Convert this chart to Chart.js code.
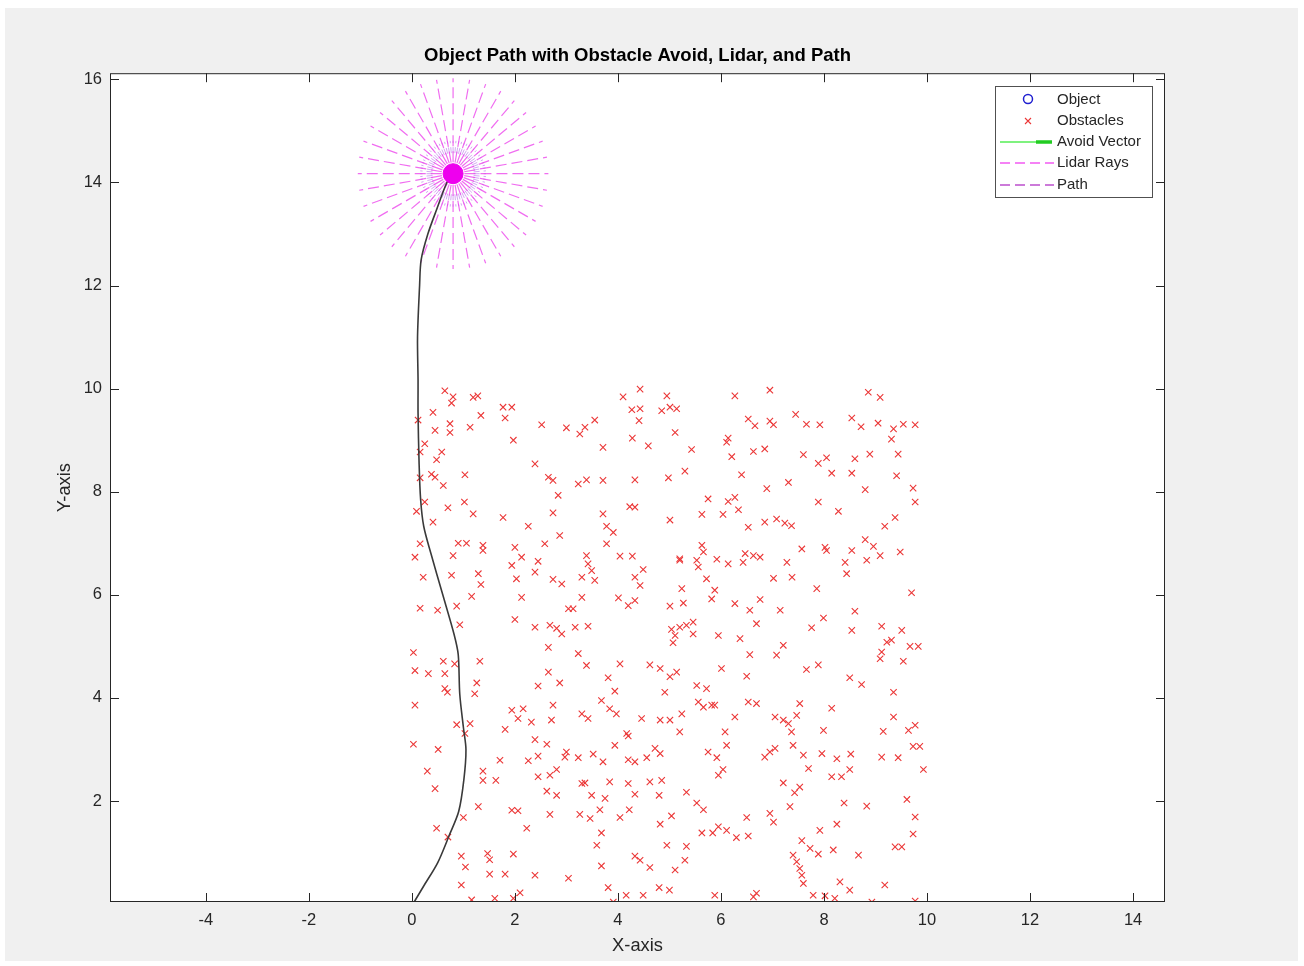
<!DOCTYPE html>
<html>
<head>
<meta charset="utf-8">
<title>Object Path with Obstacle Avoid, Lidar, and Path</title>
<script src="https://cdn.jsdelivr.net/npm/chart.js@4.4.1/dist/chart.umd.min.js"></script>
<style>
  html, body { margin: 0; padding: 0; background: #fff; }
  #wrap { width: 1304px; height: 966px; }
</style>
</head>
<body>
<div id="wrap"><canvas id="myChart" width="1304" height="966"></canvas></div>
<script>
// obstacles
const obstacleX = [
  0.64,0.80,0.77,1.19,1.28,1.77,1.94,1.81,0.41,1.34,0.12,0.74,0.74,0.45,1.13,2.52,3.00,3.26,1.97,0.25,0.16,0.58,0.48,2.39,0.38,0.45,1.03,0.16,2.65,2.74,3.23,0.61,2.84,0.25,1.02,0.70,0.09,1.19,2.74,1.77,0.41,2.26,2.87,0.16,0.90,1.06,1.38,1.38,2.00,2.58,0.06,0.80,2.13,
  4.43,4.10,4.95,6.27,4.27,4.43,4.41,4.85,5.01,5.14,3.55,3.36,6.53,6.66,5.11,4.28,6.14,6.11,3.71,4.59,5.43,6.63,6.21,5.30,6.40,3.39,3.71,4.33,4.98,5.75,6.14,6.27,6.34,4.23,4.33,3.71,5.63,6.04,5.01,3.78,3.91,6.53,3.78,5.63,5.66,3.39,4.04,4.28,5.20,6.47,6.63,
  6.95,8.86,9.09,6.95,7.02,7.45,7.66,7.92,8.54,8.72,9.05,9.35,9.31,9.54,9.77,6.85,7.60,7.89,8.05,8.89,8.60,9.44,8.15,8.54,7.31,9.41,6.89,8.80,9.73,7.89,9.77,8.28,6.85,7.08,7.24,7.37,9.38,9.18,7.57,8.02,8.05,8.80,8.96,8.54,9.09,9.48,6.76,
  1.94,2.45,2.39,0.22,0.77,1.29,1.34,2.03,2.74,2.91,3.30,1.16,2.13,3.30,0.16,0.50,0.87,3.04,3.13,2.00,0.93,2.39,2.68,2.81,2.91,3.17,2.65,0.03,3.23,0.61,0.83,1.32,0.06,0.32,0.64,2.65,1.26,0.64,0.69,2.45,2.87,1.22,0.06,2.74,1.94,2.16,2.06,3.30,2.32,2.71,0.87,1.13,1.81,
  3.42,3.49,3.55,5.20,5.53,5.56,5.92,6.14,6.43,4.49,4.33,4.43,5.72,5.24,5.88,5.82,4.01,4.20,4.33,5.01,5.27,6.27,6.56,6.69,3.42,5.04,5.11,5.20,5.33,5.46,5.46,5.07,5.95,6.37,6.56,3.39,4.04,4.62,4.82,5.01,5.14,6.01,6.50,3.81,5.53,5.72,3.94,4.91,3.68,3.84,3.97,5.56,5.66,5.82,5.88,6.53,6.69,3.42,4.46,4.82,5.01,5.24,6.27,5.20,6.08,4.17,
  7.28,8.41,8.83,7.02,7.38,8.44,7.86,9.70,6.76,7.15,8.60,7.99,7.76,8.54,9.12,9.51,9.22,9.31,9.12,9.09,9.67,9.83,7.21,7.08,7.89,7.66,9.54,8.50,8.73,9.35,7.53,7.47,7.05,7.21,7.31,8.15,9.35,7.37,7.99,9.15,9.64,9.77,
  1.03,0.03,0.51,2.39,2.62,3.00,2.97,3.23,1.71,2.26,2.45,2.81,2.68,2.45,1.38,1.38,1.63,0.30,0.45,2.62,2.81,3.30,1.29,1.94,2.06,2.68,3.26,1.00,0.48,0.70,2.23,0.96,1.04,1.47,1.51,1.97,1.51,1.81,2.39,3.04,0.96,2.10,1.16,1.61,1.97,
  4.20,3.94,6.11,3.52,3.71,4.20,4.33,4.56,4.72,4.82,5.75,5.92,6.04,5.95,3.36,3.84,4.20,4.62,4.85,3.49,3.75,4.33,4.80,5.33,5.53,5.66,3.65,4.22,3.46,4.04,5.04,4.82,6.50,5.63,5.84,5.95,6.11,6.30,6.53,3.68,3.59,4.95,5.33,4.33,4.43,5.30,4.62,3.68,5.11,3.81,4.80,5.00,3.91,4.16,4.49,5.88,6.63,
  6.85,6.95,7.05,7.40,7.60,7.96,8.25,8.52,8.50,7.70,8.15,8.34,9.12,9.44,9.73,9.86,9.93,7.21,7.53,7.43,7.34,8.39,8.83,9.61,9.77,6.95,7.02,8.25,7.92,9.73,7.57,7.73,7.89,8.18,8.67,9.38,9.51,7.40,7.47,7.53,7.57,7.60,8.31,9.18,8.50,7.79,8.02,8.21,8.93,9.77,6.69
];
const obstacleY = [
  9.96,9.84,9.72,9.83,9.86,9.64,9.64,9.43,9.54,9.48,9.39,9.32,9.15,9.19,9.25,9.30,9.24,9.12,9.00,8.93,8.77,8.77,8.62,8.54,8.34,8.28,8.33,8.27,8.28,8.22,8.15,8.12,7.93,7.80,7.80,7.69,7.62,7.57,7.59,7.50,7.41,7.33,7.15,6.99,7.00,7.00,6.96,6.86,6.92,6.99,6.73,6.76,6.73,
  9.99,9.84,9.86,9.86,9.59,9.61,9.38,9.57,9.64,9.61,9.39,9.25,9.41,9.28,9.15,9.04,9.04,8.96,8.86,8.89,8.82,8.78,8.68,8.40,8.33,8.23,8.22,8.23,8.27,7.86,7.81,7.89,7.65,7.71,7.70,7.57,7.56,7.56,7.45,7.33,7.21,7.31,6.99,6.96,6.83,6.76,6.75,6.75,6.70,6.80,6.76,
  9.97,9.93,9.83,9.37,9.30,9.50,9.31,9.30,9.43,9.26,9.33,9.22,9.02,9.31,9.30,8.83,8.72,8.55,8.66,8.73,8.64,8.73,8.36,8.36,8.18,8.31,8.06,8.04,8.07,7.80,7.80,7.62,7.41,7.47,7.39,7.34,7.50,7.33,6.89,6.92,6.86,7.07,6.94,6.86,6.76,6.83,6.73,
  6.57,6.65,6.44,6.34,6.38,6.41,6.20,6.31,6.30,6.21,6.34,5.97,5.95,5.95,5.74,5.70,5.78,5.73,5.73,5.52,5.42,5.37,5.41,5.35,5.24,5.37,4.98,4.88,4.86,4.71,4.66,4.71,4.53,4.47,4.47,4.50,4.29,4.18,4.11,4.23,4.29,4.08,3.86,3.86,3.76,3.79,3.60,3.69,3.53,3.57,3.48,3.50,3.39,
  6.60,6.47,6.28,6.67,6.67,6.54,6.69,6.60,6.63,6.49,6.34,6.18,6.31,6.12,6.09,5.92,5.94,5.79,5.89,5.78,5.84,5.83,5.70,5.44,5.39,5.33,5.21,5.37,5.41,5.47,5.24,5.07,5.21,5.15,4.84,4.63,4.66,4.64,4.57,4.41,4.50,4.57,4.42,4.39,4.24,4.18,4.13,4.11,3.95,3.79,3.69,3.92,3.82,3.86,3.86,3.92,3.89,3.60,3.60,3.57,3.57,3.69,3.63,3.34,3.34,3.31,
  6.63,6.63,6.67,6.32,6.34,6.41,6.12,6.04,5.91,5.70,5.68,5.55,5.36,5.31,5.39,5.31,5.08,5.12,4.89,4.76,5.00,5.00,5.02,4.83,4.64,4.55,4.71,4.39,4.26,4.11,3.89,3.66,3.63,3.57,3.50,3.80,3.63,3.34,3.37,3.35,3.37,3.47,
  3.31,3.10,3.00,3.19,3.10,2.95,2.85,2.84,2.79,2.78,2.87,2.61,2.50,2.47,2.58,2.40,2.40,2.58,2.24,2.19,2.11,2.34,1.89,1.82,1.81,1.74,1.74,1.68,1.47,1.30,1.47,0.93,0.72,0.98,0.86,0.97,0.58,0.58,0.56,0.50,0.37,0.22,0.08,0.11,0.11,
  3.26,3.08,3.08,2.91,2.76,2.80,2.76,2.84,3.02,2.92,2.95,2.84,2.61,2.50,2.35,2.37,2.34,2.37,2.40,2.11,2.05,2.13,2.11,2.17,1.96,1.83,1.83,1.83,1.66,1.68,1.71,1.55,1.68,1.38,1.38,1.50,1.43,1.29,1.32,1.38,1.14,1.14,1.12,0.93,0.85,0.85,0.71,0.74,0.66,0.32,0.32,0.27,0.04,0.17,0.17,0.17,0.14,
  2.85,2.95,3.02,3.08,2.89,2.92,2.82,2.91,2.61,2.63,2.47,2.47,2.85,2.84,3.06,3.06,2.61,2.35,2.27,2.16,1.89,1.96,1.90,2.03,1.69,1.76,1.59,1.55,1.43,1.36,1.23,1.08,0.97,1.05,0.95,1.11,1.11,0.95,0.82,0.69,0.56,0.40,0.43,0.37,0.27,0.17,0.16,0.11,0.04,0.06,0.21
];

// path of the object
const pathX = [0.05,0.23,0.50,0.72,0.91,1.01,1.05,1.00,0.93,0.90,0.82,0.60,0.37,0.23,0.17,0.14,0.12,0.12,0.11,0.15,0.18,0.31,0.49,0.68,0.80];
const pathY = [0.05,0.35,0.80,1.32,1.80,2.42,3.00,3.43,4.07,4.84,5.23,6.00,6.80,7.33,7.85,8.56,9.53,10.17,11.00,12.00,12.50,13.00,13.50,14.00,14.17];

// object position and lidar
const objectPos = [0.80, 14.17];
const lidarAngles = [0,10,20,30,40,50,60,70,80,90,100,110,120,130,140,150,160,170,180,190,200,210,220,230,240,250,260,270,280,290,300,310,320,330,340,350];
const lidarRange = [0.22, 1.85];
const innerAngles = [0,5,10,15,20,25,30,35,40,45,50,55,60,65,70,75,80,85,90,95,100,105,110,115,120,125,130,135,140,145,150,155,160,165,170,175,180,185,190,195,200,205,210,215,220,225,230,235,240,245,250,255,260,265,270,275,280,285,290,295,300,305,310,315,320,325,330,335,340,345,350,355];
const innerRange = [0.40, 0.64];

const xTicks = [-4, -2, 0, 2, 4, 6, 8, 10, 12, 14];
const yTicks = [2, 4, 6, 8, 10, 12, 14, 16];
const xLimits = [-5.86, 14.62];
const yLimits = [0.04, 16.12];

const legendLabels = ['Object', 'Obstacles', 'Avoid Vector', 'Lidar Rays', 'Path'];

const FONT = "'Liberation Sans', Arial, Helvetica, sans-serif";
const AXIS = '#262626';

const obstacles = obstacleX.map((x, i) => ({ x: x, y: obstacleY[i] }));
const path = pathX.map((x, i) => ({ x: x, y: pathY[i] }));

const ray = (deg, r0, r1) => {
  const a = deg * Math.PI / 180;
  return [
    { x: objectPos[0] + r0 * Math.cos(a), y: objectPos[1] + r0 * Math.sin(a) },
    { x: objectPos[0] + r1 * Math.cos(a), y: objectPos[1] + r1 * Math.sin(a) }
  ];
};

const datasets = [];
datasets.push({
  label: 'dot',
  data: [{ x: objectPos[0], y: objectPos[1] }],
  pointRadius: 10,
  pointBackgroundColor: '#ee00ee',
  pointBorderColor: '#ee00ee',
  showLine: false
});
datasets.push({
  label: 'path',
  data: path,
  showLine: true,
  pointRadius: 0,
  borderColor: '#3a3a3a',
  borderWidth: 1.6,
  tension: 0.3
});
lidarAngles.forEach(a => {
  datasets.push({
    label: 'lidar',
    data: ray(a, lidarRange[0], lidarRange[1]),
    showLine: true,
    pointRadius: 0,
    borderColor: 'rgba(235,60,235,0.75)',
    borderWidth: 1.2,
    borderDash: [11, 5]
  });
});
innerAngles.forEach(a => {
  datasets.push({
    label: 'inner',
    data: ray(a, innerRange[0], innerRange[1]),
    showLine: true,
    pointRadius: 0,
    borderColor: 'rgba(170,80,230,0.5)',
    borderWidth: 1,
    borderDash: [6, 4]
  });
});
datasets.push({
  label: 'Obstacles',
  data: obstacles,
  pointStyle: 'crossRot',
  pointRadius: 4.5,
  pointBorderColor: 'rgb(235,55,55)',
  pointBorderWidth: 1.1,
  showLine: false
});

const figurePlugin = {
  id: 'figure',
  beforeDraw(chart) {
    const { ctx, chartArea: ca } = chart;
    ctx.save();
    ctx.fillStyle = '#ffffff';
    ctx.fillRect(0, 0, chart.width, chart.height);
    ctx.fillStyle = '#f0f0f0';
    ctx.fillRect(5, 8, chart.width - 11, chart.height - 13);
    ctx.fillStyle = '#ffffff';
    ctx.fillRect(ca.left, ca.top, ca.right - ca.left, ca.bottom - ca.top);
    ctx.restore();
  },
  afterDraw(chart) {
    const { ctx, chartArea: ca, scales } = chart;
    ctx.save();
    ctx.strokeStyle = AXIS;
    ctx.lineWidth = 1;
    ctx.strokeRect(ca.left + 0.5, ca.top + 0.5, ca.right - ca.left - 1, ca.bottom - ca.top - 1);
    const tl = 9;
    ctx.beginPath();
    scales.x.ticks.forEach(t => {
      const px = Math.round(scales.x.getPixelForValue(t.value)) + 0.5;
      ctx.moveTo(px, ca.bottom); ctx.lineTo(px, ca.bottom - tl);
      ctx.moveTo(px, ca.top); ctx.lineTo(px, ca.top + tl);
    });
    scales.y.ticks.forEach(t => {
      const py = Math.round(scales.y.getPixelForValue(t.value)) + 0.5;
      ctx.moveTo(ca.left, py); ctx.lineTo(ca.left + tl, py);
      ctx.moveTo(ca.right, py); ctx.lineTo(ca.right - tl, py);
    });
    ctx.stroke();

    // legend
    const lx = 995, ly = 86, lw = 157, lh = 111;
    ctx.fillStyle = '#ffffff';
    ctx.fillRect(lx, ly, lw, lh);
    ctx.strokeStyle = '#505050';
    ctx.strokeRect(lx + 0.5, ly + 0.5, lw, lh);
    const rows = [100, 121, 142, 163, 185];
    ctx.font = '15px ' + FONT;
    ctx.fillStyle = AXIS;
    ctx.textBaseline = 'middle';
    ctx.textAlign = 'left';
    legendLabels.forEach((txt, i) => ctx.fillText(txt, 1057, rows[i]));

    // Object marker
    ctx.strokeStyle = '#2020d0';
    ctx.lineWidth = 1.5;
    ctx.beginPath();
    ctx.arc(1028, rows[0] - 1, 4.5, 0, Math.PI * 2);
    ctx.stroke();
    // Obstacle marker
    ctx.strokeStyle = 'rgb(235,55,55)';
    ctx.lineWidth = 1.1;
    ctx.beginPath();
    ctx.moveTo(1025, rows[1] - 3); ctx.lineTo(1031, rows[1] + 3);
    ctx.moveTo(1031, rows[1] - 3); ctx.lineTo(1025, rows[1] + 3);
    ctx.stroke();
    // Avoid vector
    ctx.strokeStyle = '#55ee55';
    ctx.lineWidth = 1.5;
    ctx.beginPath();
    ctx.moveTo(1000, rows[2]); ctx.lineTo(1052, rows[2]);
    ctx.stroke();
    ctx.strokeStyle = '#22cc22';
    ctx.lineWidth = 3.5;
    ctx.beginPath();
    ctx.moveTo(1036, rows[2]); ctx.lineTo(1052, rows[2]);
    ctx.stroke();
    // Lidar rays
    ctx.lineWidth = 1.3;
    ctx.setLineDash([10, 5]);
    ctx.strokeStyle = 'rgba(240,60,240,0.85)';
    ctx.beginPath();
    ctx.moveTo(1000, rows[3]); ctx.lineTo(1054, rows[3]);
    ctx.stroke();
    // Path
    ctx.strokeStyle = 'rgba(180,60,200,0.9)';
    ctx.beginPath();
    ctx.moveTo(1000, rows[4]); ctx.lineTo(1054, rows[4]);
    ctx.stroke();
    ctx.restore();
  }
};

new Chart(document.getElementById('myChart'), {
  type: 'scatter',
  data: { datasets },
  options: {
    responsive: false,
    animation: false,
    events: [],
    layout: { padding: { left: 0, right: 139, top: 0, bottom: 0 } },
    plugins: {
      legend: { display: false },
      tooltip: { enabled: false },
      title: {
        display: true,
        fullSize: false,
        text: 'Object Path with Obstacle Avoid, Lidar, and Path',
        color: '#000000',
        font: { family: FONT, size: 18.5, weight: 'bold', lineHeight: 1.2 },
        padding: { top: 45, bottom: 6 }
      }
    },
    scales: {
      x: {
        type: 'linear',
        position: 'bottom',
        min: xLimits[0],
        max: xLimits[1],
        afterBuildTicks: s => { s.ticks = xTicks.map(v => ({ value: v })); },
        afterFit: s => { s.height = 64; },
        grid: { display: false, drawTicks: false },
        border: { display: false },
        ticks: { color: AXIS, font: { family: FONT, size: 16.5 }, padding: 9, maxRotation: 0, autoSkip: false },
        title: { display: true, text: 'X-axis', color: AXIS, font: { family: FONT, size: 18.3 }, padding: { top: 0, bottom: 9 } }
      },
      y: {
        type: 'linear',
        position: 'left',
        min: yLimits[0],
        max: yLimits[1],
        afterBuildTicks: s => { s.ticks = yTicks.map(v => ({ value: v })); },
        afterFit: s => { s.width = 110; },
        grid: { display: false, drawTicks: false },
        border: { display: false },
        ticks: { color: AXIS, font: { family: FONT, size: 16.5 }, padding: 8, autoSkip: false },
        title: { display: true, text: 'Y-axis', color: AXIS, font: { family: FONT, size: 18.3 }, padding: { top: 54, bottom: 0 } }
      }
    }
  },
  plugins: [figurePlugin]
});
</script>
</body>
</html>
